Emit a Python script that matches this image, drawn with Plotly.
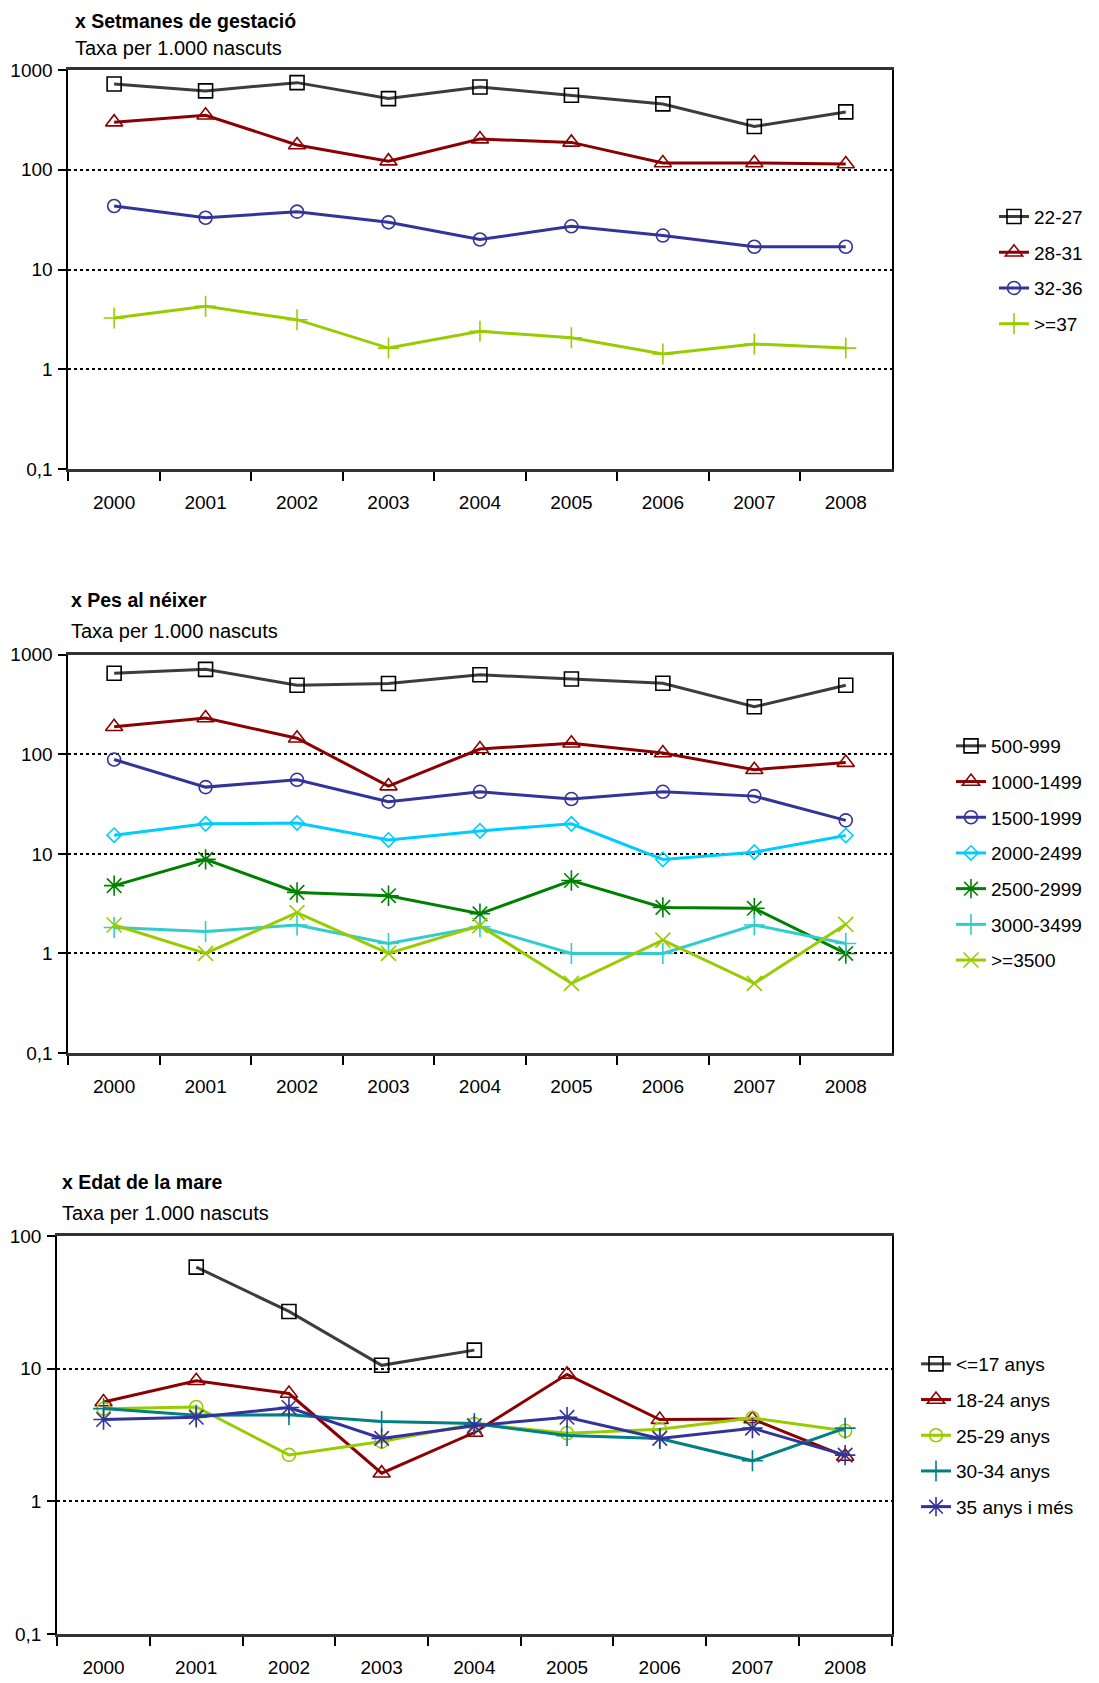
import plotly.graph_objects as go

W, H = 1099, 1683
OFF = 8  # page body margin
FW, FH = W - OFF, H - OFF
FONT = "Liberation Sans, Arial, sans-serif"

years = ["2000", "2001", "2002", "2003", "2004", "2005", "2006", "2007", "2008"]

# x Setmanes de gestació
gest_labels = ["22-27", "28-31", "32-36", ">=37"]
gest_22_27 = [724, 617, 747, 517, 676, 558, 457, 271, 380]
gest_28_31 = [300, 352, 177, 122, 203, 188, 117, 117, 114]
gest_32_36 = [43.3, 33, 38, 29.7, 20, 27.1, 21.9, 16.9, 16.9]
gest_37 = [3.26, 4.27, 3.14, 1.63, 2.4, 2.07, 1.42, 1.79, 1.63]

# x Pes al néixer
pes_labels = ["500-999", "1000-1499", "1500-1999", "2000-2499", "2500-2999", "3000-3499", ">=3500"]
pes_500 = [651, 713, 494, 513, 628, 571, 517, 300, 494]
pes_1000 = [189, 231, 145, 47.9, 113, 129, 103, 70, 82.5]
pes_1500 = [88.5, 46.8, 55.4, 33.4, 42, 35.5, 42, 38, 21.7]
pes_2000 = [15.4, 20, 20.4, 13.8, 17, 20, 8.8, 10.4, 15.3]
pes_2500 = [4.8, 8.8, 4.1, 3.8, 2.5, 5.4, 2.9, 2.84, 1.0]
pes_3000 = [1.82, 1.66, 1.93, 1.26, 1.85, 1.0, 1.0, 1.93, 1.26]
pes_3500 = [1.93, 1.0, 2.57, 1.0, 1.9, 0.5, 1.36, 0.5, 1.96]

# x Edat de la mare
edat_labels = ["<=17 anys", "18-24 anys", "25-29 anys", "30-34 anys", "35 anys i més"]
edat_17 = [None, 58.3, 27, 10.6, 13.8, None, None, None, None]
edat_18 = [5.6, 8.1, 6.5, 1.63, 3.3, 9.06, 4.13, 4.17, 2.18]
edat_25 = [4.99, 5.14, 2.24, 2.82, 3.83, 3.26, 3.5, 4.25, 3.4]
edat_30 = [5.0, 4.45, 4.5, 4.0, 3.86, 3.13, 2.98, 2.02, 3.56]
edat_35 = [4.14, 4.3, 5.1, 2.98, 3.72, 4.3, 2.98, 3.56, 2.23]

y_tickvals = [0.1, 1, 10, 100, 1000]
y_ticktext = ["0,1", "1", "10", "100", "1000"]

# styles: (color, symbol, size)
gest_styles = [("#3c3c3c", "square-open", 14), ("#8b0000", "triangle-up-open", 15),
               ("#333399", "circle-open", 13), ("#99cc00", "cross-thin-open", 15)]
pes_styles = [("#3c3c3c", "square-open", 14), ("#8b0000", "triangle-up-open", 15),
              ("#333399", "circle-open", 13), ("#00ccff", "diamond-open", 11),
              ("#008000", "asterisk-open", 17), ("#33cccc", "cross-thin-open", 15),
              ("#99cc00", "x-thin-open", 15)]
edat_styles = [("#3c3c3c", "square-open", 14), ("#8b0000", "triangle-up-open", 15),
               ("#99cc00", "circle-open", 13), ("#008080", "cross-thin-open", 15),
               ("#333399", "asterisk-open", 17)]


# page pixels -> paper coordinates
def px(x):
    return (x - OFF) / FW


def py(y):
    return 1 - (y - OFF) / FH


fig = go.Figure()

charts = [
    ("", gest_labels, [gest_22_27, gest_28_31, gest_32_36, gest_37], gest_styles, "legend"),
    ("2", pes_labels, [pes_500, pes_1000, pes_1500, pes_2000, pes_2500, pes_3000, pes_3500], pes_styles, "legend2"),
    ("3", edat_labels, [edat_17, edat_18, edat_25, edat_30, edat_35], edat_styles, "legend3"),
]

for sfx, labels, series, styles, leg in charts:
    for i, (name, vals, st) in enumerate(zip(labels, series, styles)):
        color, sym, size = st
        mcol = "#000000" if color == "#3c3c3c" else color
        fig.add_trace(go.Scatter(
            x=years, y=vals, name=name, mode="lines+markers",
            xaxis="x" + sfx, yaxis="y" + sfx, legend=leg,
            legendgroup=leg + str(i),
            connectgaps=False,
            line=dict(color=color, width=3),
            marker=dict(symbol=sym, size=size, color=mcol,
                        line=dict(color=mcol, width=1.6)),
        ))

# axis domains in page pixels
domains = [
    ((68.4, 891.5), (70, 469), [-1, 3]),
    ((68.4, 891.5), (654.7, 1053), [-1, 3]),
    ((57.2, 891.5), (1236, 1634), [-1, 2]),
]

axis_font = dict(family=FONT, size=19, color="black")
layout = {}
for k, ((x0, x1), (y0, y1), yr) in enumerate(domains):
    sfx = "" if k == 0 else str(k + 1)
    layout["xaxis" + sfx] = dict(
        domain=[px(x0), px(x1)], anchor="y" + sfx, type="category",
        range=[-0.5, 8.5], tickson="boundaries", ticks="outside", ticklen=9,
        tickwidth=1.5, tickcolor="black", showline=True, linecolor="#333333",
        linewidth=2.5, mirror=True, showgrid=False, tickfont=axis_font,
        ticklabelstandoff=14, automargin=False,
    )
    layout["yaxis" + sfx] = dict(
        domain=[py(y1), py(y0)], anchor="x" + sfx, type="log", range=yr,
        tickvals=y_tickvals, ticktext=y_ticktext, ticks="outside", ticklen=8,
        tickwidth=1.5, tickcolor="black", showline=True, linecolor="black",
        linewidth=2, mirror=True, showgrid=True, gridcolor="black",
        gridwidth=2, griddash="dot", zeroline=False, tickfont=axis_font,
        ticklabelstandoff=2, automargin=False,
    )

leg_common = dict(font=dict(family=FONT, size=19, color="black"),
                  bgcolor="rgba(0,0,0,0)", traceorder="grouped",
                  tracegroupgap=8, xanchor="left", yanchor="top",
                  itemclick=False, itemdoubleclick=False)
layout["legend"] = dict(x=px(994), y=py(216.7 - 19), **leg_common)
layout["legend2"] = dict(x=px(951), y=py(746 - 19), **leg_common)
layout["legend3"] = dict(x=px(916), y=py(1364 - 19), **leg_common)

titles = [
    (73, 20.5, "x Setmanes de gestació", 48),
    (69, 600, "x Pes al néixer", 631),
    (59.6, 1182, "x Edat de la mare", 1212.5),
]
annotations = []
for x, y, t, ys in titles:
    annotations.append(dict(x=px(x), y=py(y), xref="paper", yref="paper",
                            text="<b>" + t + "</b>", showarrow=False,
                            xanchor="left", yanchor="middle",
                            font=dict(family=FONT, size=19.5, color="black")))
    annotations.append(dict(x=px(x), y=py(ys), xref="paper", yref="paper",
                            text="Taxa per 1.000 nascuts", showarrow=False,
                            xanchor="left", yanchor="middle",
                            font=dict(family=FONT, size=20, color="black")))

fig.update_layout(
    width=FW, height=FH, margin=dict(l=0, r=0, t=0, b=0, autoexpand=False),
    paper_bgcolor="white", plot_bgcolor="white",
    font=dict(family=FONT, color="black"),
    showlegend=True, annotations=annotations, **layout,
)

fig.write_html("out.html")
